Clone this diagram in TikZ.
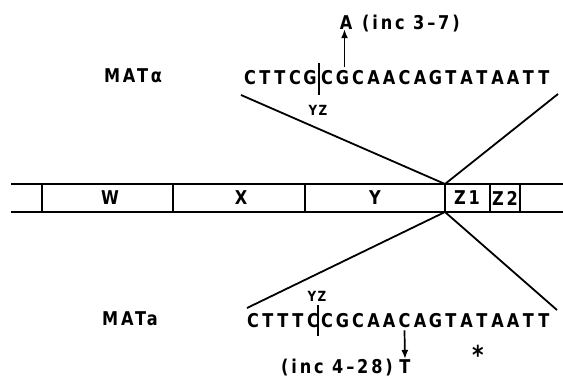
\documentclass[tikz,border=0pt]{standalone}
\usepackage{fontspec}
\setmainfont{DejaVu Sans}[FakeStretch=0.85]
\usetikzlibrary{arrows.meta}
\tikzset{
  lab/.style={font=\fontsize{19}{19}\selectfont\bfseries\addfontfeature{LetterSpace=15}, inner sep=0pt},
  base/.style={font=\fontsize{19}{19}\selectfont\bfseries, inner sep=0pt, anchor=base},
  small/.style={font=\fontsize{14}{14}\selectfont\bfseries\addfontfeature{LetterSpace=10}, inner sep=0pt},
  ln/.style={line width=1.8pt},
  cut/.style={line width=1.5pt},
  arr/.style={line width=1.7pt, -{Latex[length=9pt,width=7pt]}}
}
\begin{document}
\begin{tikzpicture}[x=1pt,y=-1pt]
\useasboundingbox (0,0) rectangle (563,381);
% chromosome bar
\coordinate (L1) at (11,184); \coordinate (R1) at (563,184);
\coordinate (L2) at (11,212); \coordinate (R2) at (563,212);
\draw[ln] (L1) -- (R1);
\draw[ln] (L2) -- (R2);
\foreach \x/\n in {42/d1,173/d2,305/d3,445/d4,490/d5,520/d6}{
  \coordinate (\n t) at (\x,184); \coordinate (\n b) at (\x,212);
  \draw[ln] (\n t) -- (\n b);
}
\node[lab] (W) at (110,198) {W};
\node[lab] (X) at (241,198) {X};
\node[lab] (Y) at (375,198) {Y};
\node[lab] (Z1) at (467,198) {Z1};
\node[lab] (Z2) at (505,198) {Z2};
% labels
\node[lab] (mata) at (133,76) {MATα};
\node[lab] (matb) at (130,319) {MATa};
% top sequence
\foreach \ch [count=\i] in {C,T,T,C,G}{
  \node[base] (t\i) at (250+15*\i-15,84) {\ch};
}
\foreach \ch [count=\i from 6] in {C,G,C,A,A,C,A,G,T,A,T,A,A,T,T}{
  \node[base] (t\i) at (327+15.5*\i-93,84) {\ch};
}
% bottom sequence
\foreach \ch [count=\i] in {C,T,T,T,C}{
  \node[base] (b\i) at (253+15*\i-15,327) {\ch};
}
\foreach \ch [count=\i from 6] in {C,G,C,A,A,C,A,G,T,A,T,A,A,T,T}{
  \node[base] (b\i) at (327+15.5*\i-93,327) {\ch};
}
% cut marks
\coordinate (c1a) at (319,63); \coordinate (c1b) at (319,95);
\draw[cut] (c1a) -- (c1b);
\node[small] (yz1) at (318,110) {YZ};
\coordinate (c2a) at (318,305); \coordinate (c2b) at (318,336);
\draw[cut] (c2a) -- (c2b);
\node[small] (yz2) at (317,296) {YZ};
% expansion lines
\coordinate (tl) at (241,95); \coordinate (tr) at (558,94);
\coordinate (bl) at (247,308); \coordinate (br) at (557,310);
\draw[ln] (tl) -- (d4t);
\draw[ln] (tr) -- (d4t);
\draw[ln] (bl) -- (d4b);
\draw[ln] (br) -- (d4b);
% mutations
\node[base] (A) at (346,29) {A};
\node[lab, anchor=base west] (inc1) at (362,29) {(inc 3–7)};
\draw[arr] (t7.north) ++(2,-3) coordinate (a1) (a1) -- (A.south -| a1);
\node[base] (T) at (405,373) {T};
\node[lab, anchor=base east] (inc2) at (393,373) {(inc 4–28)};
\draw[arr] (b11.south) ++(0,3) coordinate (a2) (a2) -- (T.north);
\node[font=\fontsize{26}{26}\selectfont\bfseries, inner sep=0pt, anchor=base] (star) at (478,364) {*};
\end{tikzpicture}
\end{document}
